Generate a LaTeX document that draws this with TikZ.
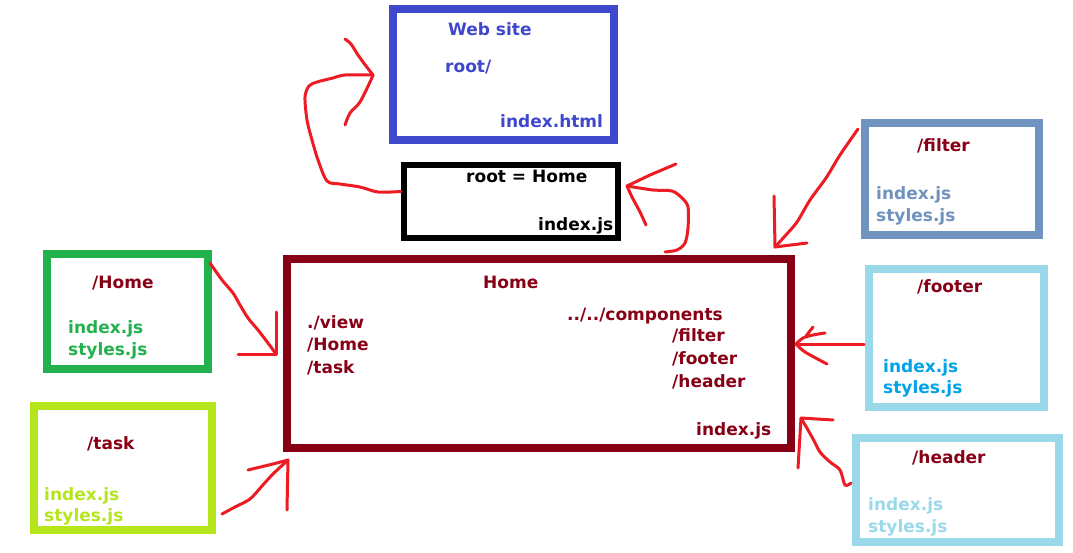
\documentclass[tikz,border=0pt]{standalone}
\usepackage{fontspec}
\setmainfont{DejaVu Sans}
\definecolor{indigo}{RGB}{63,72,204}
\definecolor{darkred}{RGB}{136,0,21}
\definecolor{grassgreen}{RGB}{34,177,76}
\definecolor{limegreen}{RGB}{181,230,29}
\definecolor{bluegray}{RGB}{112,146,190}
\definecolor{paleturq}{RGB}{153,217,234}
\definecolor{turq}{RGB}{0,162,232}
\definecolor{penred}{RGB}{237,28,36}
\begin{document}
\begin{tikzpicture}[x=1pt,y=-1pt,
  box/.style={draw, rectangle, inner sep=0pt, line width=8pt},
  lbl/.style={anchor=base west, inner sep=0pt, font=\bfseries\fontsize{17}{20}\selectfont},
  pen/.style={draw=penred, line width=3pt, line cap=round, line join=round}]
\useasboundingbox[fill=white] (0,0) rectangle (1073,553);

% folder boxes
\node[box, draw=indigo, minimum width=221pt, minimum height=131pt] (web) at (503.5,74.5) {};
\node[box, draw=black, line width=6pt, minimum width=214pt, minimum height=73pt] (rootbox) at (511,201.5) {};
\node[box, draw=darkred, minimum width=504pt, minimum height=189pt] (home) at (539,353.5) {};
\node[box, draw=grassgreen, minimum width=161pt, minimum height=115pt] (homeview) at (127.5,311.5) {};
\node[box, draw=limegreen, minimum width=178pt, minimum height=124pt] (taskview) at (123,468) {};
\node[box, draw=bluegray, minimum width=174pt, minimum height=112pt] (filter) at (952,179) {};
\node[box, draw=paleturq, minimum width=175pt, minimum height=138pt] (footer) at (956.5,338) {};
\node[box, draw=paleturq, minimum width=203pt, minimum height=104pt] (header) at (957.5,490) {};

% web site
\node[lbl, text=indigo] (webtitle) at (448,36) {Web site};
\node[lbl, text=indigo] (webroot) at (445,73) {root/};
\node[lbl, text=indigo] (webindex) at (500,128) {index.html};

% root component
\node[lbl, text=black] (roottitle) at (466,183) {root = Home};
\node[lbl, text=black] (rootindex) at (538,231) {index.js};

% Home page
\node[lbl, text=darkred] (hometitle) at (483,288) {Home};
\node[lbl, text=darkred] (hview) at (307,328) {./view};
\node[lbl, text=darkred] (hhome) at (307,350) {/Home};
\node[lbl, text=darkred] (htask) at (307,373) {/task};
\node[lbl, text=darkred] (hcomp) at (567,320) {../../components};
\node[lbl, text=darkred] (hfilter) at (672,341) {/filter};
\node[lbl, text=darkred] (hfooter) at (672,364) {/footer};
\node[lbl, text=darkred] (hheader) at (672,387) {/header};
\node[lbl, text=darkred] (hindex) at (696,435) {index.js};

% view folders
\node[lbl, text=darkred] (hvtitle) at (92,288) {/Home};
\node[lbl, text=grassgreen] (hvindex) at (68,333) {index.js};
\node[lbl, text=grassgreen] (hvstyles) at (68,355) {styles.js};
\node[lbl, text=darkred] (tvtitle) at (87,449) {/task};
\node[lbl, text=limegreen] (tvindex) at (44,500) {index.js};
\node[lbl, text=limegreen] (tvstyles) at (44,521) {styles.js};

% component folders
\node[lbl, text=darkred] (ftitle) at (917,152) {/filter};
\node[lbl, text=bluegray] (findex) at (876,200) {index.js};
\node[lbl, text=bluegray] (fstyles) at (876,222) {styles.js};
\node[lbl, text=darkred] (fotitle) at (917,293) {/footer};
\node[lbl, text=turq] (foindex) at (883,372) {index.js};
\node[lbl, text=turq] (fostyles) at (883,393) {styles.js};
\node[lbl, text=darkred] (htitle) at (912,463) {/header};
\node[lbl, text=paleturq] (hdindex) at (868,510) {index.js};
\node[lbl, text=paleturq] (hdstyles) at (868,532) {styles.js};

% arrow tips
\coordinate (tipweb) at (373,75);
\coordinate (tiproot) at (627,186);
\coordinate (tiphv) at (276,354);
\coordinate (tiptv) at (288,460);
\coordinate (tipfilter) at (775,247);
\coordinate (tipfooter) at (796,344);
\coordinate (tipheader) at (801,418);

% root = Home -> web site
\draw[pen] plot[smooth, tension=0.5] coordinates {([yshift=10pt]rootbox.west) (378,192) (360,187) (340,184) (327,181)
  (318,160) (312,140) (307,120) (305,97) (309,86) (317,82) (333,78) (345,75) (tipweb)};
\draw[pen] plot[smooth, tension=0.5] coordinates {(345,39) (351,44) (358,55) (366,66) (tipweb)};
\draw[pen] plot[smooth, tension=0.5] coordinates {(tipweb) (370,82) (360,102) (350,113) (345,125)};

% Home -> root = Home
\draw[pen] plot[smooth, tension=0.5] coordinates {([xshift=126pt,yshift=3pt]home.north) (677,250) (685,243) (688,228)
  (688,207) (682,198) (672,191) (653,190) (tiproot)};
\draw[pen] (tiproot) -- (650,175) -- (676,164);
\draw[pen] plot[smooth, tension=0.5] coordinates {(tiproot) (632,197) (640,212) (646,225)};

% /Home -> Home
\draw[pen] plot[smooth, tension=0.5] coordinates {([yshift=-13pt,xshift=-2pt]homeview.north east) (222,280) (233,293)
  (240,305) (248,318) (258,330) (268,343) (tiphv)};
\draw[pen] (276,312) -- (tiphv) -- (238,354);

% /task -> Home
\draw[pen] plot[smooth, tension=0.5] coordinates {([xshift=6pt,yshift=-46pt]taskview.east) (235,507) (250,499)
  (262,486) (273,474) (tiptv)};
\draw[pen] (248,470) -- (273,464) -- (tiptv) -- (287,510);

% /filter -> Home
\draw[pen] plot[smooth, tension=0.5] coordinates {([xshift=-3pt,yshift=-10pt]filter.north west) (840,155) (826,178)
  (810,200) (797,222) (785,236) (tipfilter)};
\draw[pen] (774,196) -- (tipfilter) -- (807,243);

% /footer -> Home
\draw[pen] ([xshift=-1pt,yshift=-6pt]footer.west) -- (tipfooter);
\draw[pen] plot[smooth, tension=0.5] coordinates {(tipfooter) (803,338) (813,335) (825,333)};
\draw[pen] (806,336) -- (813,327);
\draw[pen] plot[smooth, tension=0.5] coordinates {(tipfooter) (805,352) (827,364)};

% /header -> Home
\draw[pen] plot[smooth, tension=0.5] coordinates {([xshift=-1pt,yshift=7pt]header.west) (845,485) (840,470)
  (830,462) (820,452) (812,437) (tipheader)};
\draw[pen] (798,468) -- (tipheader) -- (833,420);
\end{tikzpicture}
\end{document}
